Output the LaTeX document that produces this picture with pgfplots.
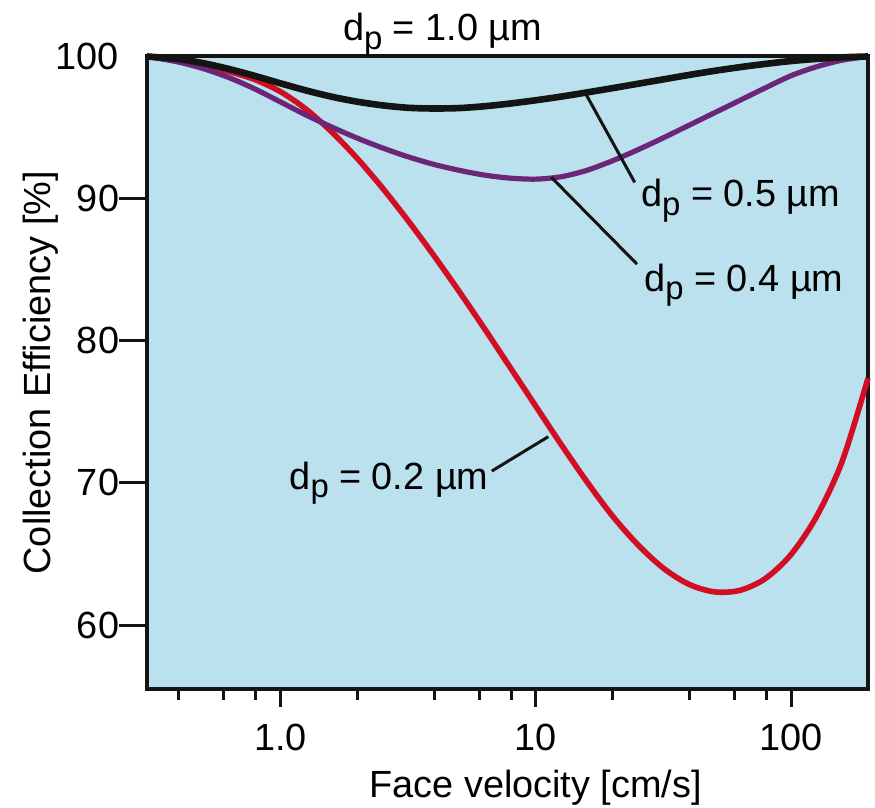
\documentclass[border=0pt]{standalone}
\usepackage{fontspec}
\setmainfont{Liberation Sans}
\usepackage{pgfplots}
\usepackage{pgfplotstable}
\pgfplotsset{compat=1.18}

\definecolor{bgblue}{RGB}{186,225,237}
\definecolor{effred}{RGB}{210,14,36}
\definecolor{effpurple}{RGB}{108,38,120}
\definecolor{effblack}{RGB}{20,20,20}

% d with a lowered p, as in the figure
\newcommand{\dpsub}{d\raisebox{-0.22em}{\fontsize{16.5}{16.5}\selectfont p}}

% collection efficiency [%] vs face velocity [cm/s]
\pgfplotstableread{
x       red     purple  black
0.3     100     100     100
0.3981  99.70   99.61   99.82
0.5012  99.35   99.13   99.52
0.6310  98.93   98.50   99.11
0.7943  98.37   97.71   98.63
1       97.52   96.80   98.11
1.259   96.29   95.88   97.61
1.585   94.70   95.04   97.17
1.995   92.84   94.26   96.82
2.512   90.73   93.56   96.56
3.162   88.44   92.94   96.39
3.981   86.01   92.41   96.34
5.012   83.46   91.99   96.37
6.310   80.82   91.65   96.50
7.943   78.11   91.44   96.69
10      75.39   91.37   96.92
12.59   72.68   91.54   97.18
15.85   70.08   91.99   97.47
19.95   67.68   92.66   97.77
25.12   65.64   93.44   98.08
31.62   63.99   94.28   98.39
39.81   62.86   95.16   98.70
50.12   62.33   96.04   98.99
63.10   62.44   96.92   99.25
79.43   63.28   97.80   99.48
100     64.97   98.65   99.68
125.9   67.65   99.28   99.83
158.5   71.52   99.74   99.94
200     77.36   100     100
}\effdata

\begin{document}
\begin{tikzpicture}
\begin{axis}[
    scale only axis,
    width=360.5bp, height=316.25bp,
    xmode=log,
    xmin=0.3, xmax=200,
    ymin=55.5, ymax=100,
    axis background/.style={fill=bgblue},
    axis line style={line width=2bp, effblack},
    font=\fontsize{19}{23}\selectfont,
    /pgf/number format/assume math mode=true,
    tick align=outside,
    tick pos=left,
    xtick={1,10,100},
    xticklabels={1.0,10,100},
    minor xtick={0.4,0.6,0.8,2,4,6,8,20,40,60,80},
    ytick={60,70,80,90},
    extra y ticks={100},
    extra y tick style={major tick length=0pt, yticklabel style={xshift=-14bp}},
    major tick length=14bp,
    minor tick length=5.5bp,
    xtick style={/pgfplots/major tick length=9bp},
    every tick/.style={line width=1.5bp, effblack},
    yticklabel style={xshift=3.5bp},
    xlabel={Face velocity [cm/s]},
    xlabel style={at={(rel axis cs:0.539,-0.1708)}, anchor=base},
    ylabel={Collection Efficiency [\%]},
    ylabel style={at={(rel axis cs:-0.1345,0.5)}, anchor=base, rotate=0},
    clip=false,
]

\addplot[effred, line width=2.8bp, smooth] table[x=x, y=red] {\effdata};
\addplot[effpurple, line width=2.6bp, smooth] table[x=x, y=purple] {\effdata};
\addplot[effblack, line width=3.3bp, smooth] table[x=x, y=black] {\effdata};

% leader lines
\draw[effblack, line width=1.5bp] (axis cs:15.6,97.45) -- (axis cs:24.4,91.14);
\draw[effblack, line width=1.5bp] (axis cs:11.5,91.50) -- (axis cs:24.9,85.39);
\draw[effblack, line width=1.5bp] (axis cs:6.72,70.83) -- (axis cs:11.19,73.25);

\node[anchor=base, inner sep=0pt] at (axis cs:4.31,101.09) {\dpsub{} = 1.0 µm};
\node[anchor=base west, inner sep=0pt] at (axis cs:25.76,89.42) {\dpsub{} = 0.5 µm};
\node[anchor=base west, inner sep=0pt] at (axis cs:26.53,83.49) {\dpsub{} = 0.4 µm};
\node[anchor=base west, inner sep=0pt] at (axis cs:1.08,69.54) {\dpsub{} = 0.2 µm};

\coordinate (bbA) at (rel axis cs:-0.2039,-0.1881);
\coordinate (bbB) at (rel axis cs:1.0097,1.0893);
\end{axis}
\pgfresetboundingbox
\path (bbA) rectangle (bbB);
\end{tikzpicture}
\end{document}
